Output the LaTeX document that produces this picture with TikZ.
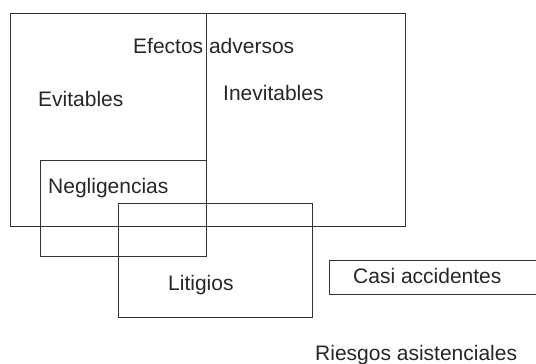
\documentclass[tikz,border=0pt]{standalone}
\usepackage{fontspec}
\setmainfont{Liberation Sans}
\begin{document}
\begin{tikzpicture}[x=1pt,y=-1pt,
  box/.style={draw=black!80,line width=0.9pt,rectangle,inner sep=0pt,anchor=north west},
  lbl/.style={inner sep=0pt,anchor=base west,font=\fontsize{21}{24}\selectfont,text=black!85}]
\useasboundingbox (0,0) rectangle (536,364);
\clip (0,0) rectangle (536,364);
% boxes
\node[box,minimum width=395pt,minimum height=213pt] (ea) at (10,13) {};
\node[box,minimum width=166pt,minimum height=96pt] (neg) at (40,160) {};
\node[box,minimum width=194pt,minimum height=114pt] (lit) at (118,203) {};
\node[box,minimum width=215pt,minimum height=34pt] (casi) at (329,260) {};
\coordinate (divtop) at (neg.north east |- ea.north);
\draw[black!80,line width=0.9pt] (divtop) -- (neg.north east);
% labels
\node[lbl] (tea) at (133,53.5) {Efectos adversos};
\node[lbl] (tev) at (38,106) {Evitables};
\node[lbl] (tin) at (223,100) {Inevitables};
\node[lbl] (tneg) at (48,193) {Negligencias};
\node[lbl] (tlit) at (168,290) {Litigios};
\node[lbl] (tcasi) at (353,283) {Casi accidentes};
\node[lbl] (tries) at (315,360) {Riesgos asistenciales};
\end{tikzpicture}
\end{document}
